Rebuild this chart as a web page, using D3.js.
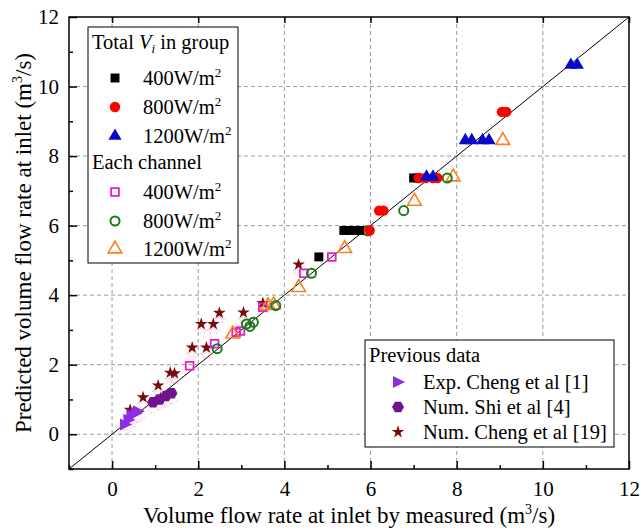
<!DOCTYPE html>
<html lang="en">
<head>
<meta charset="UTF-8">
<title>Predicted vs measured volume flow rate</title>
<script src="https://d3js.org/d3.v7.min.js"></script>
<style>
  body { margin: 0; background: #fff; }
  svg text { font-family: "Liberation Serif", "DejaVu Serif", serif; fill: #000; }
</style>
</head>
<body>
<svg id="chart" width="640" height="532"></svg>
<script>
// axis ticks
var majorTicks = [0, 2, 4, 6, 8, 10, 12];
var minorTicks = [-1, 1, 3, 5, 7, 9, 11];
var gridTicks = [0, 2, 4, 6, 8, 10];

// Total V_i in group  [measured, predicted]
var group400 = [[4.8, 5.1], [5.38, 5.86], [5.5, 5.86], [5.62, 5.86], [5.75, 5.86], [7.0, 7.37], [7.1, 7.37]];
var group800 = [[5.98, 5.86], [6.2, 6.43], [6.3, 6.43], [7.12, 7.37], [7.28, 7.37], [7.45, 7.37], [7.55, 7.37], [9.05, 9.27], [9.15, 9.27]];
var group1200 = [[7.3, 7.4], [7.45, 7.4], [8.2, 8.45], [8.35, 8.45], [8.6, 8.45], [8.75, 8.45], [10.65, 10.62], [10.8, 10.62]];

// Each channel
var channel400 = [[1.8, 1.97], [2.38, 2.6], [2.88, 2.93], [2.98, 2.97], [3.5, 3.65], [4.45, 4.63], [5.1, 5.1]];
var channel800 = [[2.44, 2.46], [3.12, 3.17], [3.2, 3.1], [3.28, 3.22], [3.8, 3.7], [4.63, 4.63], [5.93, 5.85], [6.77, 6.43], [7.78, 7.37]];
var channel1200 = [[2.8, 2.88], [3.62, 3.7], [3.75, 3.72], [4.33, 4.22], [5.4, 5.34], [7.02, 6.7], [7.92, 7.4], [9.07, 8.45]];

// Previous data
var expCheng = [[0.3, 0.28], [0.38, 0.42], [0.45, 0.55], [0.55, 0.6], [0.6, 0.66]];
var numShi = [[0.95, 0.92], [1.1, 1.0], [1.25, 1.1], [1.38, 1.18]];
var numCheng = [[0.42, 0.7], [0.72, 1.06], [1.12, 1.03], [1.07, 1.4], [1.35, 1.77], [1.45, 1.75],
                [1.86, 2.49], [2.19, 2.49], [2.07, 3.17], [2.35, 3.17], [2.49, 3.49], [3.05, 3.5],
                [3.5, 3.77], [4.33, 4.88]];

var svg = d3.select("#chart");
var plotLeft = 69, plotRight = 629, plotTop = 17, plotBottom = 469;

var x = d3.scaleLinear().domain([-1, 12]).range([plotLeft, plotRight]);
var y = d3.scaleLinear().domain([-1, 12]).range([plotBottom, plotTop]);

// marker shapes
var hexagon = function(r) {
    var pts = d3.range(6).map(function(i) {
        var a = Math.PI / 3 * i;
        return [r * Math.cos(a), r * Math.sin(a)];
    });
    return "M" + pts.join("L") + "Z";
};
var rightTri = "M-5,-6L7,0L-5,6Z";

var styles = {
    g400:  { d: d3.symbol(d3.symbolSquare, 80)(), fill: "#000", stroke: "none" },
    g800:  { d: d3.symbol(d3.symbolCircle, 85)(), fill: "#f00", stroke: "none" },
    g1200: { d: d3.symbol(d3.symbolTriangle, 75)(), fill: "#0a0ac8", stroke: "none" },
    c400:  { d: d3.symbol(d3.symbolSquare, 60)(), fill: "none", stroke: "#e81ec8", w: 1.8 },
    c800:  { d: d3.symbol(d3.symbolCircle, 65)(), fill: "none", stroke: "#1d7a1d", w: 2 },
    c1200: { d: d3.symbol(d3.symbolTriangle, 80)(), fill: "none", stroke: "#ff7f1e", w: 1.6 },
    exp:   { d: rightTri, fill: "#8b2ee6", stroke: "none", shadow: true },
    shi:   { d: hexagon(6), fill: "#6f1490", stroke: "none", shadow: true },
    num:   { d: d3.symbol(d3.symbolStar, 50)(), fill: "#7a0c0c", stroke: "none", shadow: true }
};

// grid
var grid = svg.append("g").attr("stroke", "#9a9a9a").attr("stroke-dasharray", "4,3");
grid.selectAll(".gx").data(gridTicks).enter().append("line")
    .attr("x1", function(d) { return x(d); }).attr("x2", function(d) { return x(d); })
    .attr("y1", plotTop).attr("y2", plotBottom);
grid.selectAll(".gy").data(gridTicks).enter().append("line")
    .attr("y1", function(d) { return y(d); }).attr("y2", function(d) { return y(d); })
    .attr("x1", plotLeft).attr("x2", plotRight);

// axes
function styleAxis(g) {
    g.select(".domain").remove();
    g.selectAll("line").attr("stroke", "#000").attr("stroke-width", 1.5);
    g.selectAll("text").attr("font-size", 21).attr("font-family", "Liberation Serif");
}
svg.append("g").attr("transform", "translate(0," + plotBottom + ")")
    .call(d3.axisBottom(x).tickValues(majorTicks).tickSize(-8).tickPadding(12).tickFormat(d3.format("d")))
    .call(styleAxis);
svg.append("g").attr("transform", "translate(0," + plotBottom + ")")
    .call(d3.axisBottom(x).tickValues(minorTicks).tickSize(-4).tickFormat(""))
    .call(styleAxis);
svg.append("g").attr("transform", "translate(" + plotLeft + ",0)")
    .call(d3.axisLeft(y).tickValues(majorTicks).tickSize(-8).tickPadding(10).tickFormat(d3.format("d")))
    .call(styleAxis);
svg.append("g").attr("transform", "translate(" + plotLeft + ",0)")
    .call(d3.axisLeft(y).tickValues(minorTicks).tickSize(-4).tickFormat(""))
    .call(styleAxis);
svg.append("g").attr("transform", "translate(0," + plotTop + ")")
    .call(d3.axisTop(x).tickValues(majorTicks).tickSize(-6).tickFormat(""))
    .call(styleAxis);

// y = x reference line
svg.append("line")
    .attr("x1", x(-1)).attr("y1", y(-1)).attr("x2", x(12)).attr("y2", y(12))
    .attr("stroke", "#000").attr("stroke-width", 1);

// points
function drawSeries(data, s) {
    var g = svg.append("g");
    if (s.shadow) {
        g.selectAll(".sh").data(data).enter().append("path")
            .attr("d", s.d)
            .attr("transform", function(d) { return "translate(" + x(d[0]) + "," + (y(d[1]) + 7) + ") scale(1,0.6)"; })
            .attr("fill", "none").attr("stroke", "#f08cb4").attr("stroke-width", 1)
            .attr("stroke-dasharray", "1,1.5").attr("opacity", 0.8);
    }
    g.selectAll(".pt").data(data).enter().append("path")
        .attr("d", s.d)
        .attr("transform", function(d) { return "translate(" + x(d[0]) + "," + y(d[1]) + ")"; })
        .attr("fill", s.fill).attr("stroke", s.stroke).attr("stroke-width", s.w || 0);
}
drawSeries(numCheng, styles.num);
drawSeries(numShi, styles.shi);
drawSeries(expCheng, styles.exp);
drawSeries(channel400, styles.c400);
drawSeries(channel1200, styles.c1200);
drawSeries(channel800, styles.c800);
drawSeries(group400, styles.g400);
drawSeries(group800, styles.g800);
drawSeries(group1200, styles.g1200);

// frame
svg.append("rect").attr("x", plotLeft).attr("y", plotTop)
    .attr("width", plotRight - plotLeft).attr("height", plotBottom - plotTop)
    .attr("fill", "none").attr("stroke", "#000").attr("stroke-width", 1.5);

// axis titles
function unitTitle(sel, label) {
    sel.append("tspan").text(label + " (m");
    sel.append("tspan").attr("font-size", 14).attr("dy", -9).text("3");
    sel.append("tspan").attr("dy", 9).text("/s)");
}
svg.append("text").attr("x", (plotLeft + plotRight) / 2).attr("y", 523)
    .attr("text-anchor", "middle").attr("font-size", 23)
    .call(unitTitle, "Volume flow rate at inlet by measured");
svg.append("text").attr("transform", "translate(31," + ((plotTop + plotBottom) / 2) + ") rotate(-90)")
    .attr("text-anchor", "middle").attr("font-size", 23)
    .call(unitTitle, "Predicted volume flow rate at inlet");

// legend helpers
function wm2(sel, num) {
    sel.append("tspan").text(num + "W/m");
    sel.append("tspan").attr("font-size", 13).attr("dy", -8).text("2");
}
function legendMarker(g, s, cx, cy) {
    g.append("path").attr("d", s.d).attr("transform", "translate(" + cx + "," + cy + ")")
        .attr("fill", s.fill).attr("stroke", s.stroke).attr("stroke-width", s.w || 0);
}

// left legend
var lg = svg.append("g");
lg.append("rect").attr("x", 88).attr("y", 27).attr("width", 150).attr("height", 236)
    .attr("fill", "#fff").attr("stroke", "#000").attr("stroke-width", 1);
var h1 = lg.append("text").attr("x", 92).attr("y", 49).attr("font-size", 20.5);
h1.append("tspan").text("Total ");
h1.append("tspan").attr("font-style", "italic").text("V");
h1.append("tspan").attr("font-style", "italic").attr("font-size", 13).attr("dy", 4).text("i");
h1.append("tspan").attr("dy", -4).text(" in group");
lg.append("text").attr("x", 92).attr("y", 169).attr("font-size", 20.5).text("Each channel");
var leftRows = [
    { s: styles.g400, num: "400", cy: 78 },
    { s: styles.g800, num: "800", cy: 107 },
    { s: styles.g1200, num: "1200", cy: 136 },
    { s: styles.c400, num: "400", cy: 192 },
    { s: styles.c800, num: "800", cy: 221 },
    { s: styles.c1200, num: "1200", cy: 249 }
];
leftRows.forEach(function(r) {
    legendMarker(lg, r.s, 115, r.cy);
    lg.append("text").attr("x", 143).attr("y", r.cy + 7).attr("font-size", 20.5).call(wm2, r.num);
});

// right legend
var rg = svg.append("g");
rg.append("rect").attr("x", 365).attr("y", 340).attr("width", 249).attr("height", 107)
    .attr("fill", "#fff").attr("stroke", "#000").attr("stroke-width", 1);
rg.append("text").attr("x", 369).attr("y", 362).attr("font-size", 20.5).text("Previous data");
var rightRows = [
    { s: styles.exp, label: "Exp. Cheng et al [1]", cy: 382 },
    { s: styles.shi, label: "Num. Shi et al [4]", cy: 407 },
    { s: styles.num, label: "Num. Cheng et al [19]", cy: 432 }
];
rightRows.forEach(function(r) {
    legendMarker(rg, r.s, 398, r.cy);
    rg.append("text").attr("x", 423).attr("y", r.cy + 7).attr("font-size", 20.5).text(r.label);
});
</script>
</body>
</html>
